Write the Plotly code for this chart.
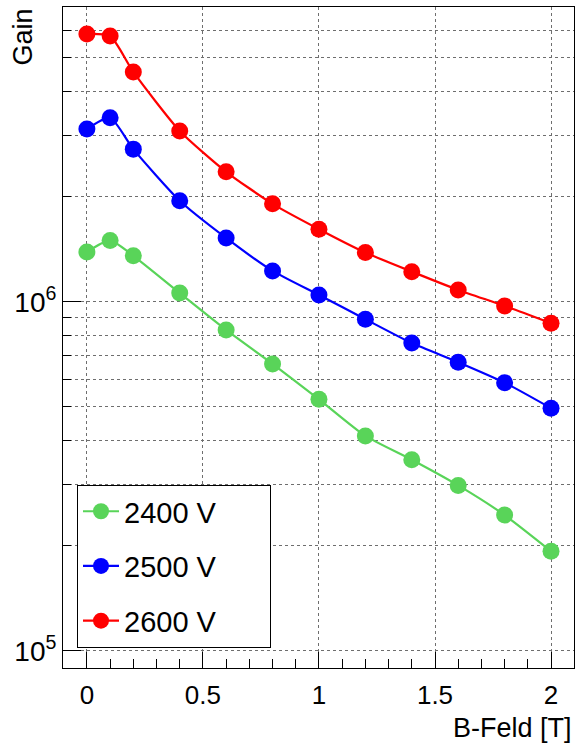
import plotly.graph_objects as go

# Magnetic field values [T]
b_field = [0.0, 0.1, 0.2, 0.4, 0.6, 0.8, 1.0, 1.2, 1.4, 1.6, 1.8, 2.0]

# Gain for the three operating voltages
gain_2400 = [1.39e6, 1.50e6, 1.355e6, 1.06e6, 0.831e6, 0.664e6,
             0.526e6, 0.413e6, 0.353e6, 0.298e6, 0.245e6, 0.193e6]
gain_2500 = [3.13e6, 3.37e6, 2.74e6, 1.95e6, 1.525e6, 1.227e6,
             1.047e6, 0.892e6, 0.762e6, 0.672e6, 0.587e6, 0.496e6]
gain_2600 = [5.86e6, 5.78e6, 4.56e6, 3.09e6, 2.36e6, 1.91e6,
             1.616e6, 1.385e6, 1.221e6, 1.082e6, 0.974e6, 0.869e6]

series_names = ["2400 V", "2500 V", "2600 V"]
series_colors = ["#59d459", "#0000ff", "#ff0000"]

x_ticks = [0, 0.5, 1, 1.5, 2]
y_major = [1e5, 1e6]
y_major_text = ["10<sup>5</sup>", "10<sup>6</sup>"]
y_minor = [k * 1e5 for k in range(2, 10)] + [k * 1e6 for k in range(2, 7)]

FONT = "Liberation Sans, Arial, Helvetica, sans-serif"
GRID = "#6e6e6e"

fig = go.Figure()
for name, ys, col in zip(series_names, [gain_2400, gain_2500, gain_2600], series_colors):
    fig.add_trace(go.Scatter(
        x=b_field, y=ys, name=name + "\u00a0" * 6, legendgroup=name,
        mode="lines+markers",
        line=dict(color=col, width=2.2, shape="spline", smoothing=0.6),
        marker=dict(color=col, size=17, symbol="circle"),
    ))

fig.update_layout(
    width=575, height=749,
    margin=dict(l=63, r=1, t=7, b=81),
    paper_bgcolor="white", plot_bgcolor="white",
    font=dict(family=FONT, color="black"),
    showlegend=True,
    legend=dict(
        x=0.0274, y=0.277, xanchor="left", yanchor="top",
        bgcolor="white", bordercolor="black", borderwidth=1,
        font=dict(size=29, family=FONT, color="black"),
        tracegroupgap=14, itemsizing="trace", itemwidth=36,
    ),
    xaxis=dict(
        range=[-0.103, 2.099],
        tickmode="array", tickvals=x_ticks, ticktext=["0", "0.5", "1", "1.5", "2"],
        ticks="inside", ticklen=16, tickwidth=1, tickcolor="black",
        showline=True, linecolor="black", linewidth=1, mirror=True,
        showgrid=True, gridcolor=GRID, griddash="dot", gridwidth=1,
        zeroline=False,
        tickfont=dict(size=26, family=FONT),
        ticklabelstandoff=4,
        minor=dict(dtick=0.1, tick0=0, ticks="inside", ticklen=9,
                   tickcolor="black", showgrid=False),
    ),
    yaxis=dict(
        type="log", range=[4.951, 6.845],
        tickmode="array", tickvals=y_major, ticktext=y_major_text,
        ticks="inside", ticklen=18, tickwidth=1, tickcolor="black",
        showline=True, linecolor="black", linewidth=1, mirror=True,
        showgrid=True, gridcolor=GRID, griddash="dot", gridwidth=1,
        zeroline=False,
        tickfont=dict(size=28, family=FONT),
        minor=dict(tickmode="array", tickvals=y_minor, ticks="inside", ticklen=8,
                   tickcolor="black", showgrid=True, gridcolor=GRID,
                   griddash="dot", gridwidth=1),
    ),
    annotations=[
        dict(text="B-Feld [T]", xref="paper", yref="paper", x=1.0, y=0,
             xanchor="right", yanchor="middle", yshift=-60, showarrow=False,
             font=dict(size=27, family=FONT, color="black")),
        dict(text="Gain", xref="paper", yref="paper", x=0, y=1,
             xanchor="center", yanchor="top", xshift=-41, showarrow=False,
             textangle=-90, font=dict(size=27, family=FONT, color="black")),
    ],
)

fig.write_html("out.html")
